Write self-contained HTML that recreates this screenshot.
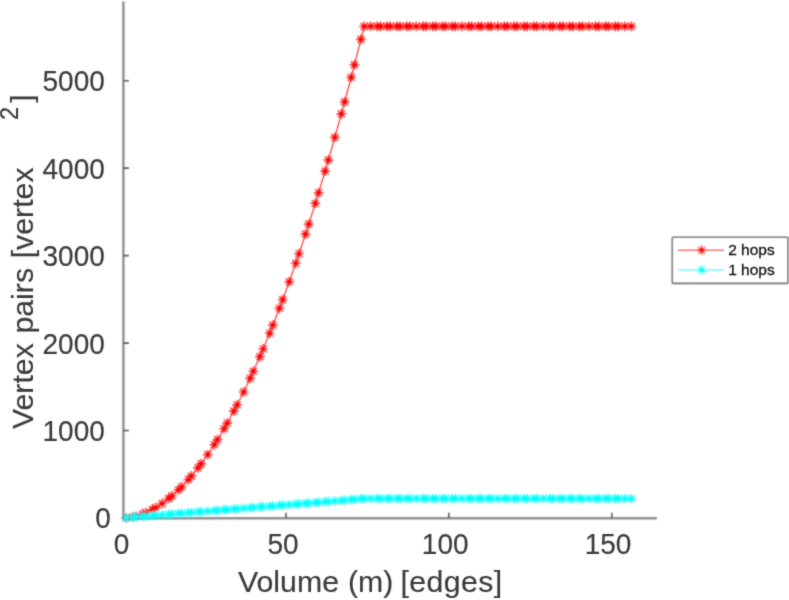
<!DOCTYPE html><html><head><meta charset="utf-8"><title>plot</title><style>html,body{margin:0;padding:0;background:#fff}svg{display:block}text{font-family:"Liberation Sans",sans-serif}</style></head><body>
<svg width="789" height="600" viewBox="0 0 789 600">
<defs><filter id="b" filterUnits="userSpaceOnUse" x="0" y="0" width="789" height="600"><feConvolveMatrix order="5" kernelMatrix="0 0.001 0.0033 0.001 0 0.001 0.0353 0.1153 0.0353 0.001 0.0033 0.1153 0.3764 0.1153 0.0033 0.001 0.0353 0.1153 0.0353 0.001 0 0.001 0.0033 0.001 0" edgeMode="none" preserveAlpha="false"/></filter>
<filter id="tb" filterUnits="userSpaceOnUse" x="0" y="0" width="789" height="600"><feConvolveMatrix order="5" kernelMatrix="0 0.0001 0.0007 0.0001 0 0.0001 0.0191 0.0997 0.0191 0.0001 0.0007 0.0997 0.5208 0.0997 0.0007 0.0001 0.0191 0.0997 0.0191 0.0001 0 0.0001 0.0007 0.0001 0" edgeMode="none" preserveAlpha="false"/></filter>
<g id="mr"><path d="M-4.90 0H4.90M0 -4.90V4.90M-3.46 -3.46L3.46 3.46M-3.46 3.46L3.46 -3.46" stroke="#ff0000" stroke-width="1.70" stroke-opacity="0.70" fill="none"/><circle r="2.10" fill="#ff0000"/></g>
<g id="mc"><path d="M-4.90 0H4.90M0 -4.90V4.90M-3.46 -3.46L3.46 3.46M-3.46 3.46L3.46 -3.46" stroke="#00ffff" stroke-width="1.70" stroke-opacity="0.70" fill="none"/><circle r="2.10" fill="#00ffff"/></g>
</defs>
<rect width="789" height="600" fill="#fff"/>
<g filter="url(#b)">
<path d="M123.4 1.5V518.3H656.8" fill="none" stroke="#909090" stroke-width="2.40"/>
<path d="M285.95 518.30v-5.50M448.90 518.30v-5.50M611.85 518.30v-5.50M123.40 430.54h5.50M123.40 343.08h5.50M123.40 255.62h5.50M123.40 168.16h5.50M123.40 80.70h5.50" stroke="#5a5a5a" stroke-width="1.60" fill="none"/>
</g>
<g filter="url(#tb)">
<g fill="#3a3a3a" stroke="#3a3a3a" stroke-width="0.15" font-size="28.0">
<text transform="translate(121.5 554.2) scale(1 1.080)" text-anchor="middle">0</text>
<text transform="translate(283.0 554.2) scale(1 1.080)" text-anchor="middle">50</text>
<text transform="translate(445.2 554.2) scale(1 1.080)" text-anchor="middle">100</text>
<text transform="translate(608.0 554.2) scale(1 1.080)" text-anchor="middle">150</text>
<text transform="translate(104.8 441.1) scale(1 1.080)" text-anchor="end">1000</text>
<text transform="translate(104.8 353.7) scale(1 1.080)" text-anchor="end">2000</text>
<text transform="translate(104.8 266.2) scale(1 1.080)" text-anchor="end">3000</text>
<text transform="translate(104.8 178.8) scale(1 1.080)" text-anchor="end">4000</text>
<text transform="translate(104.8 91.3) scale(1 1.080)" text-anchor="end">5000</text>
<text transform="translate(110.8 528.3) scale(1 1.080)" text-anchor="end">0</text>
</g>
<g fill="#3a3a3a" stroke="#3a3a3a" stroke-width="0.15" font-size="30.3">
<text word-spacing="0.6" transform="translate(238 591.7) scale(1 0.990)">Volume (m) <tspan dx="-1.9" letter-spacing="0.4">[edges]</tspan></text>
<text word-spacing="1.2" transform="translate(32.5 429) rotate(-90) scale(1 0.990)">Vertex pairs [vertex</text>
<text transform="translate(32.3 102.7) rotate(-90) scale(1 0.990)">]</text>
<text transform="translate(18 120.1) rotate(-90) scale(1 1.13)" font-size="23.5">2</text>
</g></g>
<g filter="url(#b)">
<polyline points="126.26,517.95 132.78,516.90 136.04,516.11 142.55,514.01 145.81,512.70 152.33,509.55 155.59,507.72 162.11,503.52 168.63,498.62 171.88,495.91 178.40,489.96 181.66,486.73 188.18,479.73 191.44,475.97 197.96,467.92 201.22,463.64 207.73,454.54 214.25,444.75 217.51,439.59 224.03,428.74 227.29,423.06 233.81,411.16 237.06,404.95 243.58,392.01 250.10,378.36 253.36,371.28 259.88,356.59 263.14,348.98 269.65,333.23 272.91,325.10 279.43,308.31 282.69,299.65 289.21,281.81 295.73,263.27 298.99,253.73 305.50,234.14 308.76,224.08 315.28,203.44 318.54,192.86 325.06,171.17 328.32,160.06 334.83,137.32 341.35,113.88 344.61,101.90 351.13,77.41 354.39,64.91 360.91,39.37 364.17,26.34 370.68,26.34 377.20,26.34 380.46,26.34 386.98,26.34 390.24,26.34 396.76,26.34 400.01,26.34 406.53,26.34 409.79,26.34 416.31,26.34 422.83,26.34 426.09,26.34 432.61,26.34 435.86,26.34 442.38,26.34 445.64,26.34 452.16,26.34 455.42,26.34 461.94,26.34 468.45,26.34 471.71,26.34 478.23,26.34 481.49,26.34 488.01,26.34 491.27,26.34 497.78,26.34 504.30,26.34 507.56,26.34 514.08,26.34 517.34,26.34 523.86,26.34 527.12,26.34 533.63,26.34 536.89,26.34 543.41,26.34 549.93,26.34 553.19,26.34 559.71,26.34 562.96,26.34 569.48,26.34 572.74,26.34 579.26,26.34 582.52,26.34 589.04,26.34 595.56,26.34 598.81,26.34 605.33,26.34 608.59,26.34 615.11,26.34 618.37,26.34 624.89,26.34 631.40,26.34" fill="none" stroke="#ff0000" stroke-width="1.00"/>
<use href="#mr" x="126.26" y="517.95"/><use href="#mr" x="132.78" y="516.90"/><use href="#mr" x="136.04" y="516.11"/><use href="#mr" x="142.55" y="514.01"/><use href="#mr" x="145.81" y="512.70"/><use href="#mr" x="152.33" y="509.55"/><use href="#mr" x="155.59" y="507.72"/><use href="#mr" x="162.11" y="503.52"/><use href="#mr" x="168.63" y="498.62"/><use href="#mr" x="171.88" y="495.91"/><use href="#mr" x="178.40" y="489.96"/><use href="#mr" x="181.66" y="486.73"/><use href="#mr" x="188.18" y="479.73"/><use href="#mr" x="191.44" y="475.97"/><use href="#mr" x="197.96" y="467.92"/><use href="#mr" x="201.22" y="463.64"/><use href="#mr" x="207.73" y="454.54"/><use href="#mr" x="214.25" y="444.75"/><use href="#mr" x="217.51" y="439.59"/><use href="#mr" x="224.03" y="428.74"/><use href="#mr" x="227.29" y="423.06"/><use href="#mr" x="233.81" y="411.16"/><use href="#mr" x="237.06" y="404.95"/><use href="#mr" x="243.58" y="392.01"/><use href="#mr" x="250.10" y="378.36"/><use href="#mr" x="253.36" y="371.28"/><use href="#mr" x="259.88" y="356.59"/><use href="#mr" x="263.14" y="348.98"/><use href="#mr" x="269.65" y="333.23"/><use href="#mr" x="272.91" y="325.10"/><use href="#mr" x="279.43" y="308.31"/><use href="#mr" x="282.69" y="299.65"/><use href="#mr" x="289.21" y="281.81"/><use href="#mr" x="295.73" y="263.27"/><use href="#mr" x="298.99" y="253.73"/><use href="#mr" x="305.50" y="234.14"/><use href="#mr" x="308.76" y="224.08"/><use href="#mr" x="315.28" y="203.44"/><use href="#mr" x="318.54" y="192.86"/><use href="#mr" x="325.06" y="171.17"/><use href="#mr" x="328.32" y="160.06"/><use href="#mr" x="334.83" y="137.32"/><use href="#mr" x="341.35" y="113.88"/><use href="#mr" x="344.61" y="101.90"/><use href="#mr" x="351.13" y="77.41"/><use href="#mr" x="354.39" y="64.91"/><use href="#mr" x="360.91" y="39.37"/><use href="#mr" x="364.17" y="26.34"/><use href="#mr" x="370.68" y="26.34"/><use href="#mr" x="377.20" y="26.34"/><use href="#mr" x="380.46" y="26.34"/><use href="#mr" x="386.98" y="26.34"/><use href="#mr" x="390.24" y="26.34"/><use href="#mr" x="396.76" y="26.34"/><use href="#mr" x="400.01" y="26.34"/><use href="#mr" x="406.53" y="26.34"/><use href="#mr" x="409.79" y="26.34"/><use href="#mr" x="416.31" y="26.34"/><use href="#mr" x="422.83" y="26.34"/><use href="#mr" x="426.09" y="26.34"/><use href="#mr" x="432.61" y="26.34"/><use href="#mr" x="435.86" y="26.34"/><use href="#mr" x="442.38" y="26.34"/><use href="#mr" x="445.64" y="26.34"/><use href="#mr" x="452.16" y="26.34"/><use href="#mr" x="455.42" y="26.34"/><use href="#mr" x="461.94" y="26.34"/><use href="#mr" x="468.45" y="26.34"/><use href="#mr" x="471.71" y="26.34"/><use href="#mr" x="478.23" y="26.34"/><use href="#mr" x="481.49" y="26.34"/><use href="#mr" x="488.01" y="26.34"/><use href="#mr" x="491.27" y="26.34"/><use href="#mr" x="497.78" y="26.34"/><use href="#mr" x="504.30" y="26.34"/><use href="#mr" x="507.56" y="26.34"/><use href="#mr" x="514.08" y="26.34"/><use href="#mr" x="517.34" y="26.34"/><use href="#mr" x="523.86" y="26.34"/><use href="#mr" x="527.12" y="26.34"/><use href="#mr" x="533.63" y="26.34"/><use href="#mr" x="536.89" y="26.34"/><use href="#mr" x="543.41" y="26.34"/><use href="#mr" x="549.93" y="26.34"/><use href="#mr" x="553.19" y="26.34"/><use href="#mr" x="559.71" y="26.34"/><use href="#mr" x="562.96" y="26.34"/><use href="#mr" x="569.48" y="26.34"/><use href="#mr" x="572.74" y="26.34"/><use href="#mr" x="579.26" y="26.34"/><use href="#mr" x="582.52" y="26.34"/><use href="#mr" x="589.04" y="26.34"/><use href="#mr" x="595.56" y="26.34"/><use href="#mr" x="598.81" y="26.34"/><use href="#mr" x="605.33" y="26.34"/><use href="#mr" x="608.59" y="26.34"/><use href="#mr" x="615.11" y="26.34"/><use href="#mr" x="618.37" y="26.34"/><use href="#mr" x="624.89" y="26.34"/><use href="#mr" x="631.40" y="26.34"/>
<polyline points="126.26,517.78 132.78,517.25 136.04,516.99 142.55,516.46 145.81,516.20 152.33,515.68 155.59,515.41 162.11,514.89 168.63,514.36 171.88,514.10 178.40,513.58 181.66,513.31 188.18,512.79 191.44,512.53 197.96,512.00 201.22,511.74 207.73,511.22 214.25,510.69 217.51,510.43 224.03,509.90 227.29,509.64 233.81,509.12 237.06,508.85 243.58,508.33 250.10,507.80 253.36,507.54 259.88,507.02 263.14,506.76 269.65,506.23 272.91,505.97 279.43,505.44 282.69,505.18 289.21,504.66 295.73,504.13 298.99,503.87 305.50,503.34 308.76,503.08 315.28,502.56 318.54,502.29 325.06,501.77 328.32,501.51 334.83,500.98 341.35,500.46 344.61,500.20 351.13,499.67 354.39,499.41 360.91,498.88 364.17,498.62 370.68,498.62 377.20,498.62 380.46,498.62 386.98,498.62 390.24,498.62 396.76,498.62 400.01,498.62 406.53,498.62 409.79,498.62 416.31,498.62 422.83,498.62 426.09,498.62 432.61,498.62 435.86,498.62 442.38,498.62 445.64,498.62 452.16,498.62 455.42,498.62 461.94,498.62 468.45,498.62 471.71,498.62 478.23,498.62 481.49,498.62 488.01,498.62 491.27,498.62 497.78,498.62 504.30,498.62 507.56,498.62 514.08,498.62 517.34,498.62 523.86,498.62 527.12,498.62 533.63,498.62 536.89,498.62 543.41,498.62 549.93,498.62 553.19,498.62 559.71,498.62 562.96,498.62 569.48,498.62 572.74,498.62 579.26,498.62 582.52,498.62 589.04,498.62 595.56,498.62 598.81,498.62 605.33,498.62 608.59,498.62 615.11,498.62 618.37,498.62 624.89,498.62 631.40,498.62" fill="none" stroke="#00ffff" stroke-width="1.00"/>
<use href="#mc" x="126.26" y="517.78"/><use href="#mc" x="132.78" y="517.25"/><use href="#mc" x="136.04" y="516.99"/><use href="#mc" x="142.55" y="516.46"/><use href="#mc" x="145.81" y="516.20"/><use href="#mc" x="152.33" y="515.68"/><use href="#mc" x="155.59" y="515.41"/><use href="#mc" x="162.11" y="514.89"/><use href="#mc" x="168.63" y="514.36"/><use href="#mc" x="171.88" y="514.10"/><use href="#mc" x="178.40" y="513.58"/><use href="#mc" x="181.66" y="513.31"/><use href="#mc" x="188.18" y="512.79"/><use href="#mc" x="191.44" y="512.53"/><use href="#mc" x="197.96" y="512.00"/><use href="#mc" x="201.22" y="511.74"/><use href="#mc" x="207.73" y="511.22"/><use href="#mc" x="214.25" y="510.69"/><use href="#mc" x="217.51" y="510.43"/><use href="#mc" x="224.03" y="509.90"/><use href="#mc" x="227.29" y="509.64"/><use href="#mc" x="233.81" y="509.12"/><use href="#mc" x="237.06" y="508.85"/><use href="#mc" x="243.58" y="508.33"/><use href="#mc" x="250.10" y="507.80"/><use href="#mc" x="253.36" y="507.54"/><use href="#mc" x="259.88" y="507.02"/><use href="#mc" x="263.14" y="506.76"/><use href="#mc" x="269.65" y="506.23"/><use href="#mc" x="272.91" y="505.97"/><use href="#mc" x="279.43" y="505.44"/><use href="#mc" x="282.69" y="505.18"/><use href="#mc" x="289.21" y="504.66"/><use href="#mc" x="295.73" y="504.13"/><use href="#mc" x="298.99" y="503.87"/><use href="#mc" x="305.50" y="503.34"/><use href="#mc" x="308.76" y="503.08"/><use href="#mc" x="315.28" y="502.56"/><use href="#mc" x="318.54" y="502.29"/><use href="#mc" x="325.06" y="501.77"/><use href="#mc" x="328.32" y="501.51"/><use href="#mc" x="334.83" y="500.98"/><use href="#mc" x="341.35" y="500.46"/><use href="#mc" x="344.61" y="500.20"/><use href="#mc" x="351.13" y="499.67"/><use href="#mc" x="354.39" y="499.41"/><use href="#mc" x="360.91" y="498.88"/><use href="#mc" x="364.17" y="498.62"/><use href="#mc" x="370.68" y="498.62"/><use href="#mc" x="377.20" y="498.62"/><use href="#mc" x="380.46" y="498.62"/><use href="#mc" x="386.98" y="498.62"/><use href="#mc" x="390.24" y="498.62"/><use href="#mc" x="396.76" y="498.62"/><use href="#mc" x="400.01" y="498.62"/><use href="#mc" x="406.53" y="498.62"/><use href="#mc" x="409.79" y="498.62"/><use href="#mc" x="416.31" y="498.62"/><use href="#mc" x="422.83" y="498.62"/><use href="#mc" x="426.09" y="498.62"/><use href="#mc" x="432.61" y="498.62"/><use href="#mc" x="435.86" y="498.62"/><use href="#mc" x="442.38" y="498.62"/><use href="#mc" x="445.64" y="498.62"/><use href="#mc" x="452.16" y="498.62"/><use href="#mc" x="455.42" y="498.62"/><use href="#mc" x="461.94" y="498.62"/><use href="#mc" x="468.45" y="498.62"/><use href="#mc" x="471.71" y="498.62"/><use href="#mc" x="478.23" y="498.62"/><use href="#mc" x="481.49" y="498.62"/><use href="#mc" x="488.01" y="498.62"/><use href="#mc" x="491.27" y="498.62"/><use href="#mc" x="497.78" y="498.62"/><use href="#mc" x="504.30" y="498.62"/><use href="#mc" x="507.56" y="498.62"/><use href="#mc" x="514.08" y="498.62"/><use href="#mc" x="517.34" y="498.62"/><use href="#mc" x="523.86" y="498.62"/><use href="#mc" x="527.12" y="498.62"/><use href="#mc" x="533.63" y="498.62"/><use href="#mc" x="536.89" y="498.62"/><use href="#mc" x="543.41" y="498.62"/><use href="#mc" x="549.93" y="498.62"/><use href="#mc" x="553.19" y="498.62"/><use href="#mc" x="559.71" y="498.62"/><use href="#mc" x="562.96" y="498.62"/><use href="#mc" x="569.48" y="498.62"/><use href="#mc" x="572.74" y="498.62"/><use href="#mc" x="579.26" y="498.62"/><use href="#mc" x="582.52" y="498.62"/><use href="#mc" x="589.04" y="498.62"/><use href="#mc" x="595.56" y="498.62"/><use href="#mc" x="598.81" y="498.62"/><use href="#mc" x="605.33" y="498.62"/><use href="#mc" x="608.59" y="498.62"/><use href="#mc" x="615.11" y="498.62"/><use href="#mc" x="618.37" y="498.62"/><use href="#mc" x="624.89" y="498.62"/><use href="#mc" x="631.40" y="498.62"/>
<rect x="672.3" y="237.2" width="115.6" height="46.2" rx="0.8" fill="#fff" stroke="#6e6e6e" stroke-width="1.6"/>
<path d="M678 250.2H724.1" stroke="#ff0000" stroke-width="1.00"/>
<path d="M678 269.9H724.1" stroke="#00ffff" stroke-width="1.00"/>
<use href="#mr" x="701.6" y="250.2"/><use href="#mc" x="701.6" y="269.9"/>
</g>
<g filter="url(#tb)" fill="#111" stroke="#111" stroke-width="0.3" font-size="15.5"><text transform="translate(728.2 255.2) scale(1 0.94)">2 hops</text><text transform="translate(728.2 274.9) scale(1 0.94)">1 hops</text></g>
</svg></body></html>
